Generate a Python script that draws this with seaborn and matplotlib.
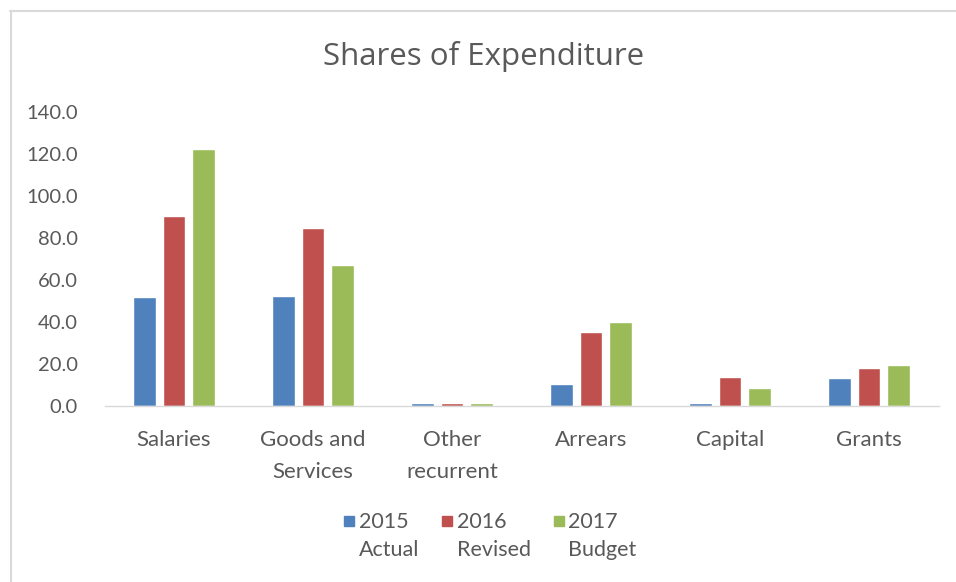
import matplotlib
matplotlib.use("Agg")
import matplotlib.pyplot as plt
import matplotlib.ticker as mticker
from matplotlib.lines import Line2D
from matplotlib.markers import MarkerStyle
from matplotlib.transforms import Affine2D
import pandas as pd
import seaborn as sns

# Expenditure categories and the three budget series
categories = ["Salaries", "Goods and\nServices", "Other\nrecurrent", "Arrears", "Capital", "Grants"]
series = ["2015\nActual", "2016\nRevised", "2017\nBudget"]
actual_2015 = [51.8, 52.6, 1.5, 10.3, 1.5, 13.4]
revised_2016 = [90.5, 85.0, 1.5, 35.2, 13.9, 17.9]
budget_2017 = [122.4, 67.3, 1.5, 40.0, 8.7, 19.4]
colors = ["#4F81BD", "#C0504D", "#9BBB59"]

rows = []
for s, vals in zip(series, [actual_2015, revised_2016, budget_2017]):
    for c, v in zip(categories, vals):
        rows.append({"category": c, "series": s, "value": v})
df = pd.DataFrame(rows)

sns.set_theme(style="white")
plt.rcParams["font.family"] = ["Lato", "DejaVu Sans"]
text_color = "#595959"

fig = plt.figure(figsize=(9.56, 5.82), dpi=100)
ax = fig.add_axes([104.5 / 956, 1 - 406 / 582, 834 / 956, 294 / 582])

sns.barplot(data=df, x="category", y="value", hue="series", order=categories,
            hue_order=series, palette=colors, width=0.647, gap=0.233,
            saturation=1, legend=False, ax=ax)

ax.set_ylim(0, 140)
ax.set_xlim(-0.5, len(categories) - 0.5)
ax.set_yticks(range(0, 141, 20))
ax.yaxis.set_major_formatter(mticker.FormatStrFormatter("%.1f"))
ax.set_xlabel("")
ax.set_ylabel("")
for side in ["top", "right", "left"]:
    ax.spines[side].set_visible(False)
ax.spines["bottom"].set_color("#d9d9d9")
ax.spines["bottom"].set_linewidth(1.0)
ax.tick_params(axis="both", length=0, colors=text_color)
ax.tick_params(axis="x", pad=17, labelsize=16)
ax.tick_params(axis="y", pad=19, labelsize=14.5)
for lbl in ax.get_xticklabels():
    lbl.set_linespacing(1.8)

fig.text(0.506, 1 - 57 / 582, "Shares of Expenditure", ha="center", va="center",
         fontsize=22.5, color=text_color, family=["Open Sans", "DejaVu Sans"])

# legend squares sit beside the first line of each two-line label
lift = MarkerStyle("s", transform=Affine2D().translate(0, 1.45))
handles = [Line2D([0], [0], marker=lift, linestyle="", markersize=7.5,
                  markerfacecolor=col, markeredgecolor=col) for col in colors]
leg = fig.legend(handles, series, loc="center", bbox_to_anchor=(0.512, 1 - 536 / 582),
                 ncol=3, frameon=False, fontsize=15.5, handletextpad=0.15,
                 columnspacing=1.0, handlelength=0.6)
for t in leg.get_texts():
    t.set_color(text_color)
    t.set_multialignment("left")
    t.set_linespacing(1.55)

# chart frame
fig.add_artist(Line2D([10 / 956, 1], [1 - 11 / 582, 1 - 11 / 582], color="#d9d9d9", lw=1.5,
                      transform=fig.transFigure))
fig.add_artist(Line2D([11 / 956, 11 / 956], [0, 1 - 11 / 582], color="#d9d9d9", lw=1.5,
                      transform=fig.transFigure))

fig.savefig("out.png", dpi=100, facecolor="white")
